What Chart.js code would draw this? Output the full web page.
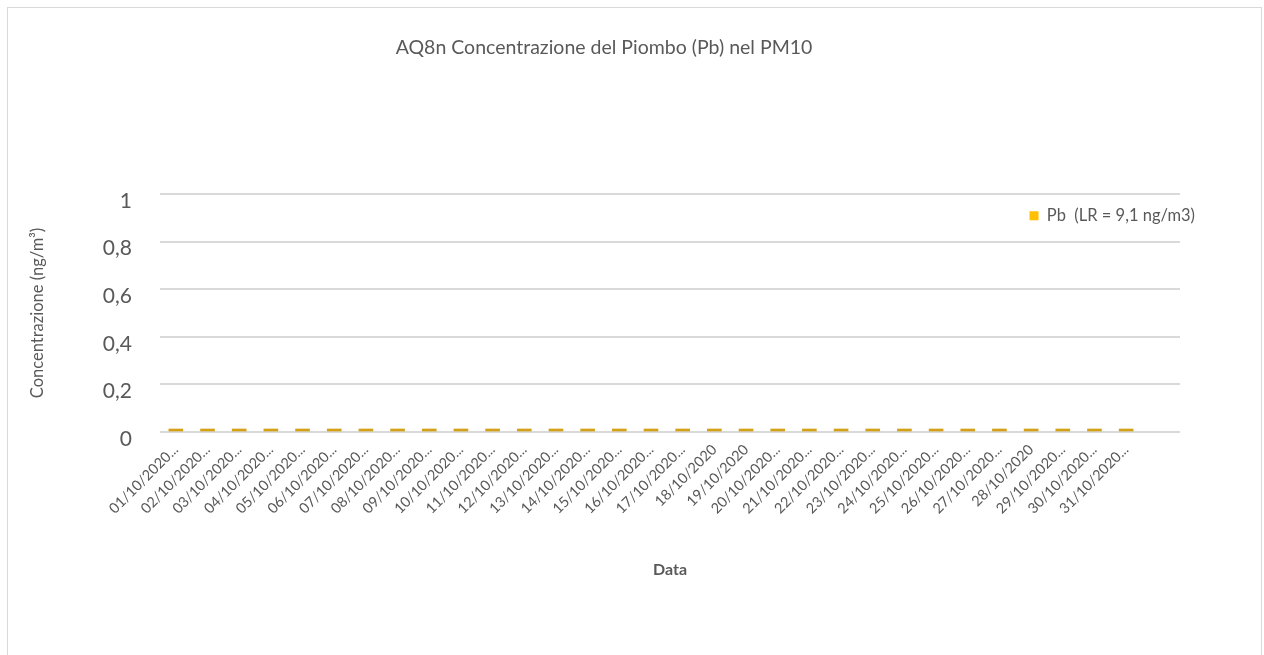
<!DOCTYPE html>
<html>
<head>
<meta charset="utf-8">
<script src="https://cdn.jsdelivr.net/npm/chart.js@4/dist/chart.umd.min.js"></script>
<style>
  body { margin: 0; background: #fff; }
  #wrap { position: relative; width: 1264px; height: 655px; overflow: hidden; }
  #frame { position: absolute; left: 7px; top: 7px; width: 1255px; height: 700px; border: 1px solid #d9d9d9; box-sizing: border-box; }
  canvas { position: absolute; left: 0; top: 0; }
</style>
</head>
<body>
<div id="wrap">
  <div id="frame"></div>
  <canvas id="chart" width="1264" height="655"></canvas>
</div>
<script>
const dates = [
  '01/10/2020...', '02/10/2020...', '03/10/2020...', '04/10/2020...', '05/10/2020...',
  '06/10/2020...', '07/10/2020...', '08/10/2020...', '09/10/2020...', '10/10/2020...',
  '11/10/2020...', '12/10/2020...', '13/10/2020...', '14/10/2020...', '15/10/2020...',
  '16/10/2020...', '17/10/2020...', '18/10/2020', '19/10/2020', '20/10/2020...',
  '21/10/2020...', '22/10/2020...', '23/10/2020...', '24/10/2020...', '25/10/2020...',
  '26/10/2020...', '27/10/2020...', '28/10/2020', '29/10/2020...', '30/10/2020...',
  '31/10/2020...'
];
const pbValues = [0, 0, 0, 0, 0, 0, 0, 0, 0, 0, 0, 0, 0, 0, 0, 0, 0, 0, 0, 0, 0, 0, 0, 0, 0, 0, 0, 0, 0, 0, 0];
const yTicks = [0, 0.2, 0.4, 0.6, 0.8, 1];

const grey = '#595959';
const font = 'Lato, "Open Sans", sans-serif';

// legend sits inside the plot area in the original, nudge it there
const moveLegend = {
  id: 'moveLegend',
  afterLayout(chart) {
    const lg = chart.legend;
    const dx = 25, dy = 40;
    lg.left += dx; lg.right += dx;
    lg.top += dy; lg.bottom += dy;
  }
};

new Chart(document.getElementById('chart'), {
  type: 'bar',
  data: {
    datasets: [{
      label: 'Pb  (LR = 9,1 ng/m3)',
      data: pbValues.map((v, i) => ({ x: i, y: v })),
      backgroundColor: '#D4A017',
      barThickness: 14,
      minBarLength: 3,
    }]
  },
  options: {
    responsive: false,
    animation: false,
    layout: { padding: { left: 28, right: 84, top: 10, bottom: 73 } },
    plugins: {
      title: {
        display: true,
        text: 'AQ8n Concentrazione del Piombo (Pb) nel PM10',
        color: grey,
        font: { family: font, size: 19.5, weight: 'normal' },
        padding: { top: 26, bottom: 98 }
      },
      legend: {
        position: 'top',
        align: 'end',
        labels: {
          color: grey,
          font: { family: font, size: 16.5 },
          boxWidth: 9,
          boxHeight: 9,
          padding: 10,
          generateLabels(chart) {
            const items = Chart.defaults.plugins.legend.labels.generateLabels(chart);
            items.forEach(it => { it.fillStyle = '#FFC000'; it.strokeStyle = '#FFC000'; it.lineWidth = 0; });
            return items;
          }
        }
      },
      tooltip: { enabled: false }
    },
    scales: {
      x: {
        type: 'linear',
        offset: false,
        min: -0.5,
        max: 31.7,
        grid: { display: false },
        border: { display: false },
        afterFit(scale) { scale.height = 150; },
        afterBuildTicks(scale) {
          scale.ticks = dates.map((d, i) => ({ value: i }));
        },
        ticks: {
          autoSkip: false,
          maxRotation: 45,
          minRotation: 45,
          padding: 1,
          color: grey,
          font: { family: font, size: 14.5 },
          callback: (v) => dates[v] ?? ''
        },
        title: {
          display: true,
          text: 'Data',
          color: grey,
          font: { family: font, size: 16, weight: 'bold' },
          padding: { top: 4, bottom: 3 }
        }
      },
      y: {
        min: 0,
        max: 1,
        afterFit(scale) { scale.width = 132; },
        afterBuildTicks(scale) {
          scale.ticks = yTicks.map(v => ({ value: v }));
        },
        grid: { color: '#d9d9d9', lineWidth: 2, drawTicks: false },
        border: { display: false },
        ticks: {
          padding: 28,
          labelOffset: 7,
          color: grey,
          font: { family: font, size: 21 },
          callback: (v) => String(v).replace('.', ',')
        },
        title: {
          display: true,
          text: 'Concentrazione (ng/m³)',
          color: grey,
          font: { family: font, size: 16.5 },
          padding: { top: 0, bottom: 0 }
        }
      }
    }
  },
  plugins: [moveLegend]
});
</script>
</body>
</html>
